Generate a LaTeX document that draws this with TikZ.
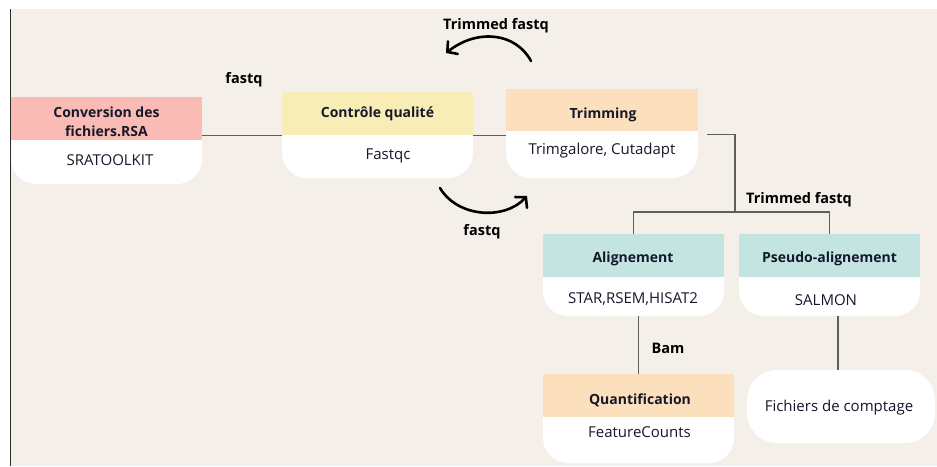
\documentclass[tikz,border=0pt]{standalone}
\usepackage{fontspec}
\setmainfont{Open Sans}
\usetikzlibrary{fit,arrows.meta}
\definecolor{bg}{HTML}{F4EFE9}
\definecolor{pinkc}{HTML}{F9BBB4}
\definecolor{yellowc}{HTML}{F8EDB5}
\definecolor{peachc}{HTML}{FCDFBC}
\definecolor{tealc}{HTML}{C3E4E1}
\definecolor{ink}{HTML}{16182A}
\definecolor{linegray}{HTML}{5E5E5E}
\definecolor{edge}{HTML}{2E2E2E}
\begin{document}
\begin{tikzpicture}[x=1pt,y=-1pt,
  hdr/.style={inner sep=0pt, draw=none},
  bodyshape/.style={inner sep=0pt, fill=white, draw=none, rounded corners=25pt},
  title/.style={font=\fontsize{14}{19}\selectfont\bfseries, text=ink, align=center, inner sep=0pt},
  tool/.style={font=\fontsize{15}{18}\selectfont, text=ink, inner sep=0pt},
  lbl/.style={font=\fontsize{14.5}{17}\selectfont\bfseries, text=black, inner sep=0pt},
  link/.style={draw=linegray, line width=1.3pt},
  bendarrow/.style={draw=black, line width=2.6pt, line cap=round, line join=round,
    -{Straight Barb[length=7pt,width=16pt,line cap=round]}}]
\useasboundingbox (0,0) rectangle (937,466);
\fill[white] (0,0) rectangle (937,466);
\fill[bg] (11,9) rectangle (937,466);
\draw[edge, line width=1.3pt] (10.5,9) -- (10.5,466);

% Conversion
\node[bodyshape, fit={(11,115) (202,184)}] (convB) {};
\node[hdr, fill=pinkc, fit={(11,97) (202,140)}] (convH) {};
\node[title] (convT) at (106.5,122) {Conversion des\\fichiers.RSA};
\node[tool] (convS) at (110,160) {SRATOOLKIT};

% Controle qualite
\node[bodyshape, fit={(282,110) (473,178)}] (ctlB) {};
\node[hdr, fill=yellowc, fit={(282,92) (473,135)}] (ctlH) {};
\node[title] (ctlT) at (377.5,114) {Contrôle qualité};
\node[tool] (ctlS) at (388,156) {Fastqc};

% Trimming
\node[bodyshape, fit={(506,106) (698,178)}] (trimB) {};
\node[hdr, fill=peachc, fit={(506,89) (698,131)}] (trimH) {};
\node[title] (trimT) at (603,115) {Trimming};
\node[tool] (trimS) at (602,151) {Trimgalore, Cutadapt};

% Alignement
\node[bodyshape, fit={(543,252) (724,316)}] (alB) {};
\node[hdr, fill=tealc, fit={(543,234) (724,277)}] (alH) {};
\node[title] (alT) at (633,259) {Alignement};
\node[tool] (alS) at (633,299) {STAR,RSEM,HISAT2};

% Pseudo-alignement
\node[bodyshape, fit={(739,252) (920,316)}] (psB) {};
\node[hdr, fill=tealc, fit={(739,234) (920,277)}] (psH) {};
\node[title] (psT) at (829.5,259) {Pseudo-alignement};
\node[tool] (psS) at (826,300) {SALMON};

% Quantification
\node[bodyshape, fit={(543,392) (734,463)}] (quB) {};
\node[hdr, fill=peachc, fit={(543,374) (734,417)}] (quH) {};
\node[title] (quT) at (640,400) {Quantification};
\node[tool] (quS) at (639.5,432) {FeatureCounts};

% Fichiers de comptage
\node[bodyshape, rounded corners=30pt, fit={(747,370) (935,443)}] (fcB) {};
\node[tool] (fcS) at (839,408) {Fichiers de comptage};

% connectors
\draw[link] (ctlH.south west -| convH.east) -- (ctlH.south west);
\draw[link] (ctlH.south east) -- (ctlH.south east -| trimH.west);
\coordinate (split) at (735,212);
\draw[link] ([shift={(9,3)}]trimH.south east) -| (split);
\draw[link] (alH.north) -- (alH.north |- split) -- (psH.north |- split) -- (psH.north);
\draw[link] (quH.north |- alB.south) -- (quH.north);
\draw[link] ([xshift=-3]fcB.north) -- ([xshift=-3]fcB.north |- psB.south);

% curved arrows
\coordinate (ta0) at (531,61);
\coordinate (ta1) at (446,53);
\coordinate (ba0) at (440,188);
\coordinate (ba1) at (527,196);
\draw[bendarrow] (ta0) .. controls (516,33) and (478,28) .. (ta1);
\draw[bendarrow] (ba0) .. controls (458,218) and (505,220) .. (ba1);

% labels
\node[lbl] (l1) at (244,80) {fastq};
\node[lbl] (l2) at (496,26) {Trimmed fastq};
\node[lbl] (l3) at (482,232) {fastq};
\node[lbl] (l4) at (799,200) {Trimmed fastq};
\node[lbl] (l5) at (668,348) {Bam};
\end{tikzpicture}
\end{document}
